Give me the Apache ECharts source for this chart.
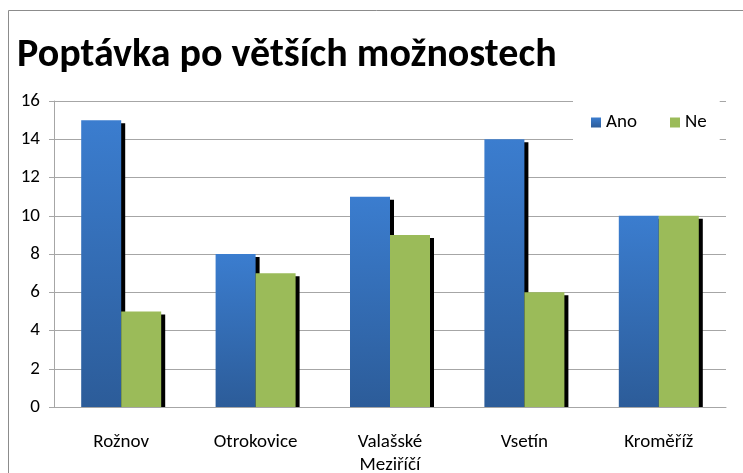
<!DOCTYPE html>
<html>
<head>
<meta charset="utf-8">
<script src="https://cdn.jsdelivr.net/npm/echarts@6/dist/echarts.min.js"></script>
<style>
  html, body { margin: 0; padding: 0; background: #fff; }
  #chart { width: 743px; height: 473px; }
</style>
</head>
<body>
<div id="chart"></div>
<script>
  // data
  var categories = ['Rožnov', 'Otrokovice', 'Valašské\nMeziříčí', 'Vsetín', 'Kroměříž'];
  var ano = [15, 8, 11, 14, 10];
  var ne = [5, 7, 9, 6, 10];
  var yTicks = { min: 0, max: 16, interval: 2 };

  var fontName = 'Carlito, "Open Sans", "Liberation Sans", sans-serif';
  var gridColor = '#a6a6a6';

  var chart = echarts.init(document.getElementById('chart'));

  var blueGrad = new echarts.graphic.LinearGradient(0, 0, 0, 1, [
    { offset: 0, color: '#3b7dcf' },
    { offset: 1, color: '#2c5c99' }
  ]);

  var barShadow = { shadowColor: '#000', shadowOffsetX: 4, shadowOffsetY: 3, shadowBlur: 0 };

  var option = {
    backgroundColor: '#fff',
    animation: false,
    title: {
      text: 'Poptávka po větších možnostech',
      left: 12,
      top: 31,
      textStyle: { fontFamily: fontName, fontWeight: 'bold', fontSize: 40, color: '#000' }
    },
    legend: {
      left: 573,
      top: 95,
      padding: [18, 13, 8, 18],
      backgroundColor: '#fff',
      itemWidth: 10,
      itemHeight: 10,
      itemGap: 33,
      icon: 'rect',
      textStyle: { fontFamily: fontName, fontSize: 19, color: '#000' },
      data: ['Ano', 'Ne']
    },
    grid: { left: 54, right: 17, top: 101, bottom: 66, outerBoundsMode: 'none', containLabel: false },
    xAxis: {
      type: 'category',
      data: categories,
      z: 10,
      axisLine: { lineStyle: { color: gridColor } },
      axisTick: { length: 5, lineStyle: { color: gridColor } },
      axisLabel: { fontFamily: fontName, fontSize: 19, color: '#000', margin: 24, lineHeight: 23 }
    },
    yAxis: {
      type: 'value',
      min: yTicks.min,
      max: yTicks.max,
      interval: yTicks.interval,
      axisLine: { show: true, lineStyle: { color: gridColor } },
      axisTick: { show: true, length: 5, lineStyle: { color: gridColor } },
      splitLine: { lineStyle: { color: gridColor } },
      axisLabel: { fontFamily: fontName, fontSize: 19, color: '#000', margin: 14 }
    },
    series: [{
      name: 'Ano',
      type: 'bar',
      data: ano,
      barWidth: 40,
      barGap: '0%',
      itemStyle: Object.assign({ color: blueGrad }, barShadow)
    }, {
      name: 'Ne',
      type: 'bar',
      data: ne,
      barWidth: 40,
      barGap: '0%',
      itemStyle: Object.assign({ color: '#9bbb59' }, barShadow)
    }]
  };

  chart.setOption(option);

  // hide the part of the drop shadow that falls below the x axis, and draw the outer frame
  var origin = chart.convertToPixel({ gridIndex: 0 }, [0, 0]);
  var grid = chart.getModel().getComponent('grid').coordinateSystem.getRect();
  chart.setOption({
    graphic: [{
      type: 'rect',
      shape: { x: grid.x + 1, y: origin[1] + 0.5, width: grid.width, height: 5 },
      style: { fill: '#fff' },
      z: 5
    }, {
      type: 'rect',
      shape: { x: 8.5, y: 10.5, width: 800, height: 500 },
      style: { fill: 'none', stroke: '#8c8c8c', lineWidth: 1 },
      z: 100
    }]
  });
</script>
</body>
</html>
